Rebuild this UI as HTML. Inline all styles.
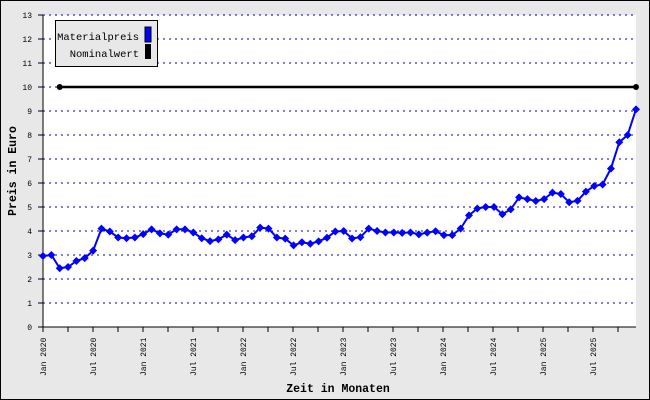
<!DOCTYPE html><html><head><meta charset="utf-8"><style>body{margin:0}svg{display:block}</style></head><body>
<svg width="650" height="400" xmlns="http://www.w3.org/2000/svg" font-family="Liberation Mono, DejaVu Sans Mono, monospace">
<rect x="0.5" y="0.5" width="649" height="399" fill="#e8e8e8" stroke="#000"/>
<rect x="43" y="15" width="593" height="312" fill="#fff"/>
<g id="g"></g>
<g font-size="8" text-anchor="end" id="yl"></g>
<g id="xl" font-size="8"></g>
<line x1="43" y1="15" x2="43" y2="327" stroke="#000"/>
<line x1="43" y1="327" x2="636" y2="327" stroke="#000"/>
<line x1="59.7" y1="87" x2="636" y2="87" stroke="#000" stroke-width="2.5"/>
<circle cx="59.7" cy="87" r="3"/><circle cx="636" cy="87" r="3"/>
<polyline id="pl" fill="none" stroke="#0000ff" stroke-width="2"/>
<g id="pts" fill="#0000ff"></g>
<rect x="55.5" y="20.5" width="102" height="46" fill="#e8e8e8" stroke="#000"/>
<text x="139" y="40" font-size="10.5" text-anchor="end">Materialpreis</text>
<text x="139" y="57" font-size="10.5" text-anchor="end">Nominalwert</text>
<rect x="145" y="27" width="6" height="15" fill="#0000ff" stroke="#000"/>
<rect x="145" y="44" width="6" height="15" fill="#000"/>
<text x="338" y="392" font-size="11.5" font-weight="bold" text-anchor="middle">Zeit in Monaten</text>
<text transform="translate(16,171) rotate(-90)" font-size="11.5" font-weight="bold" text-anchor="middle">Preis in Euro</text>
</svg>
<script>
var ns="http://www.w3.org/2000/svg";function el(p,t,a,tx){var e=document.createElementNS(ns,t);for(var k in a)e.setAttribute(k,a[k]);if(tx)e.textContent=tx;document.getElementById(p).appendChild(e);}
for(var v=0;v<=13;v++){var y=327-24*v;if(v>0)el("g","line",{x1:43,x2:636,y1:y,y2:y,stroke:"#0000cc","stroke-dasharray":"2,4"});el("g","line",{x1:38,x2:43,y1:y,y2:y,stroke:"#000"});el("yl","text",{x:32,y:y+3},""+v);}
for(var i=0;i<24;i++){var x=43+i*25;el("g","line",{x1:x,x2:x,y1:327,y2:332,stroke:"#000"});if(i%2==0){var yr=2020+Math.floor(i/4);var lab=(i%4==0?"Jan ":"Jul ")+yr;el("xl","text",{transform:"translate("+(x+3)+",376) rotate(-90)"},lab);}}
var d=[2.96,3.0,2.45,2.5,2.75,2.87,3.18,4.1,3.98,3.73,3.7,3.73,3.87,4.07,3.9,3.85,4.07,4.07,3.94,3.7,3.58,3.65,3.85,3.62,3.73,3.78,4.14,4.1,3.73,3.68,3.4,3.53,3.47,3.57,3.72,3.98,
4.0,3.69,3.74,4.1,4.0,3.94,3.94,3.92,3.94,3.86,3.93,3.99,3.83,3.83,4.1,4.65,4.94,5.0,5.0,4.7,4.9,5.4,5.33,5.25,5.33,5.6,5.54,5.2,5.26,5.64,5.875,5.94,6.6,7.7,8.0,9.07];
var s="";d.forEach(function(v,i){var x=43+i*593/71,y=327-24*v;s+=x.toFixed(1)+","+y.toFixed(1)+" ";el("pts","polygon",{points:(x)+","+(y-4)+" "+(x+4)+","+y+" "+x+","+(y+4)+" "+(x-4)+","+y});});
document.getElementById("pl").setAttribute("points",s);
</script>
</body></html>
